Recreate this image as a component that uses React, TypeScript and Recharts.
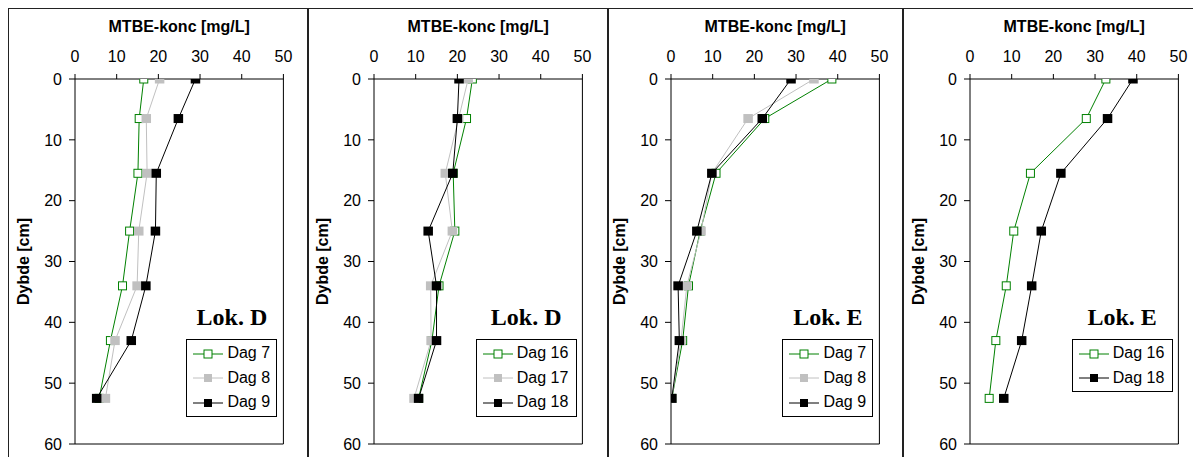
import React from 'react';
import { ScatterChart, Scatter, XAxis, YAxis, ReferenceLine, Legend } from 'recharts';

// ---------- data ----------
const depths = [0, 6.5, 15.5, 25, 34, 43, 52.5];
const xTicks = [0, 10, 20, 30, 40, 50];
const yTicks = [0, 10, 20, 30, 40, 50, 60];

const xTitle = 'MTBE-konc [mg/L]';
const yTitle = 'Dybde [cm]';

// Panel 1 – Lok. D, Dag 7/8/9
const p1Dag7 = [16.5, 15.4, 15.1, 13.1, 11.4, 8.5, 5.8];
const p1Dag8 = [20.3, 17.1, 17.3, 15.3, 14.9, 9.6, 7.3];
const p1Dag9 = [28.9, 24.8, 19.5, 19.3, 17.0, 13.5, 5.2];

// Panel 2 – Lok. D, Dag 16/17/18
const p2Dag16 = [23.6, 22.2, 19.0, 19.4, 15.6, 13.9, 10.7];
const p2Dag17 = [22.6, 20.3, 17.1, 18.8, 13.6, 13.7, 9.6];
const p2Dag18 = [20.4, 20.0, 18.9, 13.0, 15.0, 15.0, 10.7];

// Panel 3 – Lok. E, Dag 7/8/9
const p3Dag7 = [38.6, 22.5, 10.8, 7.0, 4.2, 2.8, 0.2];
const p3Dag8 = [34.3, 18.5, 9.8, 7.2, 3.8, 2.4, 0.2];
const p3Dag9 = [28.8, 21.9, 9.8, 6.2, 1.7, 2.0, 0.2];

// Panel 4 – Lok. E, Dag 16/18
const p4Dag16 = [32.6, 27.9, 14.5, 10.5, 8.7, 6.2, 4.6];
const p4Dag18 = [39.1, 33.0, 21.8, 17.1, 14.8, 12.4, 8.1];

// ---------- styles ----------
type Kind = 'open' | 'gray' | 'black';
const GREEN = '#008000';
const COLOR: Record<Kind, string> = { open: GREEN, gray: '#C0C0C0', black: '#000000' };
const SANS = '"Liberation Sans", Arial, sans-serif';
const SERIF = '"Liberation Serif", "Times New Roman", serif';

type SeriesDef = { name: string; values: number[]; kind: Kind };
type PanelDef = { lok: string; series: SeriesDef[]; plotLeft: number; boxW: number; border: number };

const panels: PanelDef[] = [
  {
    lok: 'Lok. D', plotLeft: 75, boxW: 91, border: -1,
    series: [
      { name: 'Dag 7', values: p1Dag7, kind: 'open' },
      { name: 'Dag 8', values: p1Dag8, kind: 'gray' },
      { name: 'Dag 9', values: p1Dag9, kind: 'black' },
    ],
  },
  {
    lok: 'Lok. D', plotLeft: 374.3, boxW: 101, border: 299.3,
    series: [
      { name: 'Dag 16', values: p2Dag16, kind: 'open' },
      { name: 'Dag 17', values: p2Dag17, kind: 'gray' },
      { name: 'Dag 18', values: p2Dag18, kind: 'black' },
    ],
  },
  {
    lok: 'Lok. E', plotLeft: 671, boxW: 91, border: 598.7,
    series: [
      { name: 'Dag 7', values: p3Dag7, kind: 'open' },
      { name: 'Dag 8', values: p3Dag8, kind: 'gray' },
      { name: 'Dag 9', values: p3Dag9, kind: 'black' },
    ],
  },
  {
    lok: 'Lok. E', plotLeft: 970.3, boxW: 101, border: 894.3,
    series: [
      { name: 'Dag 16', values: p4Dag16, kind: 'open' },
      { name: 'Dag 18', values: p4Dag18, kind: 'black' },
    ],
  },
];

// ---------- layout constants (chart coordinates) ----------
const Y_AXIS_W = 67;
const X_AXIS_H = 71;
const PLOT_W = 208.4;
const PLOT_H = 365;
const CHART_W = 291;
const CHART_H = 449;

const markerShape = (kind: Kind) => (props: any) => {
  const { cx, cy } = props;
  if (cx == null || cy == null || isNaN(cx) || isNaN(cy)) return <g />;
  if (kind === 'open') {
    return <rect x={cx - 4} y={cy - 4} width={8} height={8} fill="#ffffff" stroke={GREEN} strokeWidth={1} />;
  }
  return <rect x={cx - 4.75} y={cy - 4.5} width={9.5} height={9} fill={COLOR[kind]} />;
};

const LegendGlyph = ({ kind }: { kind: Kind }) => (
  <svg width={30} height={10} style={{ display: 'block' }}>
    <line x1={0} y1={5} x2={30} y2={5} stroke={COLOR[kind]} strokeWidth={1} />
    {kind === 'open' ? (
      <rect x={11} y={1} width={8} height={8} fill="#fff" stroke={GREEN} strokeWidth={1} />
    ) : (
      <rect x={11} y={1} width={8} height={8} fill={COLOR[kind]} />
    )}
  </svg>
);

const LegendBox = ({ panel }: { panel: PanelDef }) => (
  <div style={{ position: 'relative', width: panel.boxW, height: 120 }}>
    <div
      style={{
        position: 'absolute', left: -20, width: panel.boxW + 40, top: 0, textAlign: 'center',
        fontFamily: SERIF, fontWeight: 'bold', fontSize: 24, lineHeight: '24px', color: '#000',
      }}
    >
      {panel.lok}
    </div>
    <div
      style={{
        position: 'absolute', left: 0, top: 34.1, width: panel.boxW, boxSizing: 'border-box',
        border: '1px solid #000', background: '#fff', padding: '1px 0',
      }}
    >
      {panel.series.map((s) => (
        <div key={s.name} style={{ display: 'flex', alignItems: 'center', height: 24.5 }}>
          <div style={{ width: 6 }} />
          <LegendGlyph kind={s.kind} />
          <span
            style={{ marginLeft: 4, fontFamily: SANS, fontSize: 16, lineHeight: '24.5px', color: '#000', whiteSpace: 'nowrap' }}
          >
            {s.name}
          </span>
        </div>
      ))}
    </div>
  </div>
);

const YLabel = () => {
  const cx = Y_AXIS_W - 51.5;
  const cy = X_AXIS_H + PLOT_H / 2;
  return (
    <text
      x={cx}
      y={cy}
      transform={`rotate(-90 ${cx} ${cy})`}
      textAnchor="middle"
      dominantBaseline="central"
      fontFamily={SANS}
      fontWeight="bold"
      fontSize={16}
      fill="#000"
    >
      {yTitle}
    </text>
  );
};

const Panel = ({ panel }: { panel: PanelDef }) => {
  const tickStyle = { fill: '#000', fontSize: 16, fontFamily: SANS };
  const boxLeft = Y_AXIS_W + PLOT_W - 6 - panel.boxW;
  return (
    <ScatterChart
      width={CHART_W}
      height={CHART_H}
      margin={{ top: 0, left: 0, bottom: CHART_H - X_AXIS_H - PLOT_H, right: CHART_W - Y_AXIS_W - PLOT_W }}
    >
      <XAxis
        type="number"
        dataKey="x"
        orientation="top"
        domain={[0, 50]}
        ticks={xTicks}
        interval={0}
        height={X_AXIS_H}
        tickSize={5}
        tickMargin={12}
        axisLine={{ stroke: '#000' }}
        tickLine={{ stroke: '#000' }}
        tick={tickStyle}
        allowDataOverflow
        label={{
          value: xTitle,
          position: 'insideTop',
          offset: 13,
          style: { fontFamily: SANS, fontWeight: 'bold', fontSize: 16, fill: '#000' },
        }}
      />
      <YAxis
        type="number"
        dataKey="y"
        reversed
        domain={[0, 60]}
        ticks={yTicks}
        interval={0}
        width={Y_AXIS_W}
        tickSize={6}
        tickMargin={7}
        axisLine={{ stroke: '#000' }}
        tickLine={{ stroke: '#000' }}
        tick={tickStyle}
        allowDataOverflow
        label={{ content: () => <YLabel /> }}
      />
      <ReferenceLine x={50} stroke="#000" strokeWidth={1} />
      <ReferenceLine y={60} stroke="#000" strokeWidth={1} />
      {panel.series.map((s) => (
        <Scatter
          key={s.name}
          name={s.name}
          data={s.values.map((v, i) => ({ x: v, y: depths[i] }))}
          fill={COLOR[s.kind]}
          line={{ stroke: COLOR[s.kind], strokeWidth: 1 }}
          lineType="joint"
          shape={markerShape(s.kind)}
          isAnimationActive={false}
        />
      ))}
      <Legend
        layout="vertical"
        align="center"
        verticalAlign="middle"
        wrapperStyle={{ left: boxLeft, top: 297.4, width: panel.boxW, height: 120 }}
        content={() => <LegendBox panel={panel} />}
      />
    </ScatterChart>
  );
};

export default function App() {
  return (
    <div style={{ position: 'relative', width: 1193, height: 449 }}>
      <div style={{ position: 'absolute', left: -1, top: -1.3, width: 1196, height: 2, background: '#222' }} />
      {panels.map((p, i) => (
        <div key={'b' + i} style={{ position: 'absolute', left: p.border, top: -1.3, width: 2, height: 452, background: '#222' }} />
      ))}
      {panels.map((p, i) => (
        <div key={'c' + i} style={{ position: 'absolute', left: p.plotLeft - Y_AXIS_W - 8, top: 0 }}>
          <Panel panel={p} />
        </div>
      ))}
    </div>
  );
}
